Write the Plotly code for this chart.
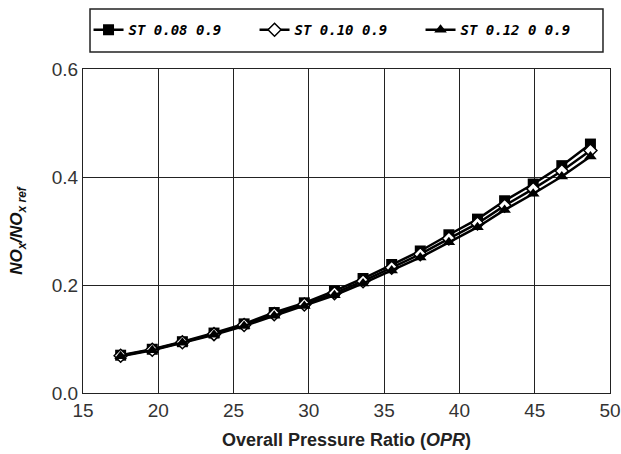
import plotly.graph_objects as go

opr = [17.5, 19.6, 21.6, 23.7, 25.7, 27.7, 29.7, 31.7, 33.6, 35.5, 37.4, 39.3, 41.2, 43.0, 44.9, 46.8, 48.7]
st_008 = [0.070, 0.081, 0.095, 0.111, 0.128, 0.149, 0.167, 0.189, 0.212, 0.238, 0.263, 0.293, 0.322, 0.356, 0.387, 0.421, 0.461]
st_010 = [0.069, 0.080, 0.094, 0.109, 0.126, 0.146, 0.164, 0.185, 0.207, 0.232, 0.257, 0.286, 0.314, 0.347, 0.378, 0.411, 0.449]
st_012 = [0.068, 0.079, 0.093, 0.108, 0.124, 0.143, 0.161, 0.181, 0.203, 0.227, 0.251, 0.279, 0.307, 0.339, 0.369, 0.401, 0.438]
names = ["ST 0.08 0.9", "ST 0.10 0.9", "ST 0.12 0 0.9"]
x_ticks = [15, 20, 25, 30, 35, 40, 45, 50]
y_ticks = [0.0, 0.2, 0.4, 0.6]

fig = go.Figure()
fig.add_trace(go.Scatter(x=opr, y=st_008, name=names[0], mode="lines+markers",
                         line=dict(color="black", width=2.5),
                         marker=dict(symbol="square", size=11, color="black")))
fig.add_trace(go.Scatter(x=opr, y=st_010, name=names[1], mode="lines+markers",
                         line=dict(color="black", width=2.5),
                         marker=dict(symbol="diamond", size=10, color="white",
                                     line=dict(color="black", width=1.5))))
fig.add_trace(go.Scatter(x=opr, y=st_012, name=names[2], mode="lines+markers",
                         line=dict(color="black", width=2.5),
                         marker=dict(symbol="triangle-up", size=11, color="black")))

axis_font = dict(family="Arial, Liberation Sans, sans-serif", size=19, color="#333")
fig.update_layout(
    width=621, height=454,
    margin=dict(l=83, r=11, t=69, b=61),
    paper_bgcolor="white", plot_bgcolor="white",
    showlegend=True,
    legend=dict(orientation="h", x=0.0105, xanchor="left", y=1.12, yanchor="middle",
                bgcolor="rgba(0,0,0,0)", borderwidth=0,
                entrywidth=121, entrywidthmode="pixels",
                font=dict(family="DejaVu Sans Mono", size=14, color="black",
                          weight="bold", style="italic")),
    xaxis=dict(range=[15, 50], tickvals=x_ticks, showgrid=True, gridcolor="#222", gridwidth=1,
               showline=True, linecolor="#222", linewidth=1, mirror=True, zeroline=False,
               ticks="", tickfont=axis_font, automargin=False,
               title=dict(text="Overall Pressure Ratio (<i>OPR</i>)", standoff=13,
                          font=dict(family="Arial, Liberation Sans, sans-serif", size=18,
                                    color="#222", weight="bold"))),
    yaxis=dict(range=[0, 0.6], tickvals=y_ticks, tickformat=".1f", showgrid=True,
               gridcolor="#222", gridwidth=1,
               showline=True, linecolor="#222", linewidth=1, mirror=True, zeroline=False,
               ticks="", tickfont=axis_font, automargin=False,
               title=dict(text="<i>NO<sub>x</sub>/NO<sub>x ref</sub></i>", standoff=24,
                          font=dict(family="Arial, Liberation Sans, sans-serif", size=17,
                                    color="#111", weight="bold"))),
    shapes=[dict(type="rect", xref="paper", yref="paper",
                 x0=0.0133, x1=0.9867, y0=1.0525, y1=1.185,
                 line=dict(color="#222", width=1.5), fillcolor="rgba(0,0,0,0)")],
)

fig.write_html("out.html")
